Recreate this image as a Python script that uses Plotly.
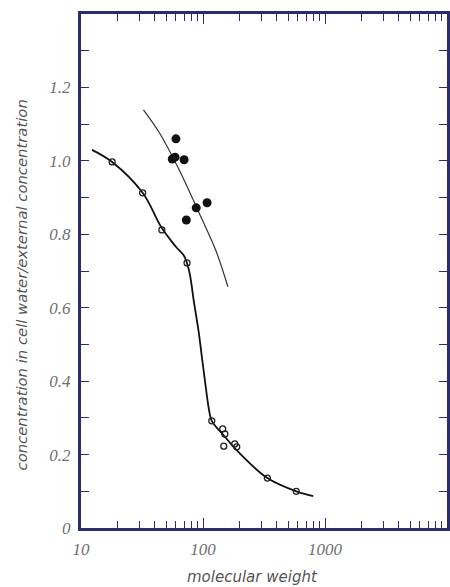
import plotly.graph_objects as go

# open circles (lower series)
open_mw = [18, 32, 46, 74, 118, 145, 151, 148, 182, 189, 337, 581]
open_ratio = [0.997, 0.913, 0.812, 0.722, 0.292, 0.270, 0.256, 0.223, 0.229, 0.221, 0.136, 0.100]

# filled circles (upper series)
filled_mw = [60, 56, 59, 70, 73, 88, 108]
filled_ratio = [1.06, 1.005, 1.01, 1.003, 0.839, 0.872, 0.886]

# hand-drawn curves
lower_curve_mw = [12.3, 18, 32, 46, 60, 70, 77, 84.5, 91.6, 98.6, 105.2, 112, 118, 150, 185, 337, 581, 800]
lower_curve_ratio = [1.03, 0.997, 0.913, 0.817, 0.766, 0.741, 0.700, 0.613, 0.540, 0.458, 0.385, 0.322, 0.292,
                     0.25, 0.215, 0.136, 0.10, 0.087]
upper_curve_mw = [32.5, 44, 62, 93, 127, 160]
upper_curve_ratio = [1.139, 1.076, 0.984, 0.858, 0.757, 0.657]

x_major = [10, 100, 1000, 10000]
x_major_text = ["10", "100", "1000", ""]
x_minor = [m * d for d in (10, 100, 1000) for m in range(2, 10)]
y_ticks = [0, 0.1, 0.2, 0.3, 0.4, 0.5, 0.6, 0.7, 0.8, 0.9, 1.0, 1.1, 1.2, 1.3]
y_text = ["0", "", "0.2", "", "0.4", "", "0.6", "", "0.8", "", "1.0", "", "1.2", ""]

frame = "#2c2c6c"
label_font = dict(family="Liberation Serif", size=17, color="#707070", style="italic")
xtitle_font = dict(family="DejaVu Sans", size=15, color="#555555", style="italic")
ytitle_font = dict(family="DejaVu Sans", size=14.8, color="#555555", style="italic")

fig = go.Figure()
fig.add_trace(go.Scatter(x=lower_curve_mw, y=lower_curve_ratio, mode="lines",
                         line=dict(color="#111111", width=1.8, shape="spline", smoothing=1.0),
                         hoverinfo="skip"))
fig.add_trace(go.Scatter(x=upper_curve_mw, y=upper_curve_ratio, mode="lines",
                         line=dict(color="#333333", width=1.2, shape="spline", smoothing=1.0),
                         hoverinfo="skip"))
fig.add_trace(go.Scatter(x=open_mw, y=open_ratio, mode="markers",
                         marker=dict(symbol="circle-open", size=6, color="#222222", line=dict(width=1.3))))
fig.add_trace(go.Scatter(x=filled_mw, y=filled_ratio, mode="markers",
                         marker=dict(symbol="circle", size=9, color="#111111")))

W, H = 450, 587
l, r, t, b = 81, 0, 14, 59
pw, ph = W - l - r, H - t - b

fig.update_layout(
    width=W, height=H,
    margin=dict(l=l, r=r, t=t, b=b),
    paper_bgcolor="white", plot_bgcolor="white",
    showlegend=False,
    xaxis=dict(type="log", range=[1, 4], tickmode="array", tickvals=x_major, ticktext=x_major_text,
               ticks="inside", ticklen=10, tickwidth=1.3, tickcolor=frame,
               minor=dict(tickmode="array", tickvals=x_minor, ticks="inside", ticklen=7,
                          tickwidth=1.2, tickcolor=frame, showgrid=False),
               showline=True, linecolor=frame, linewidth=3, mirror="ticks",
               showgrid=False, zeroline=False, tickfont=label_font, ticklabelstandoff=4),
    yaxis=dict(range=[0, 1.4], tickmode="array", tickvals=y_ticks, ticktext=y_text,
               ticks="inside", ticklen=8, tickwidth=1.3, tickcolor=frame,
               showline=True, linecolor=frame, linewidth=3, mirror="ticks",
               showgrid=False, zeroline=False, tickfont=label_font, ticklabelstandoff=4),
    annotations=[
        dict(text="molecular weight", x=(254 - l) / pw, y=(H - b - 577) / ph,
             xanchor="center", yanchor="middle",
             xref="paper", yref="paper", showarrow=False, font=xtitle_font),
        dict(text="concentration in cell water/external concentration",
             x=(21 - l) / pw, y=(H - b - 285) / ph, xanchor="center", yanchor="middle",
             xref="paper", yref="paper", textangle=-90, showarrow=False, font=ytitle_font),
    ],
)

fig.write_html("out.html", config={"displayModeBar": False})
with open("out.html", "r", encoding="utf-8") as f:
    html = f.read()
html = html.replace("<body>", '<body style="margin:0;overflow:hidden">', 1)
with open("out.html", "w", encoding="utf-8") as f:
    f.write(html)
